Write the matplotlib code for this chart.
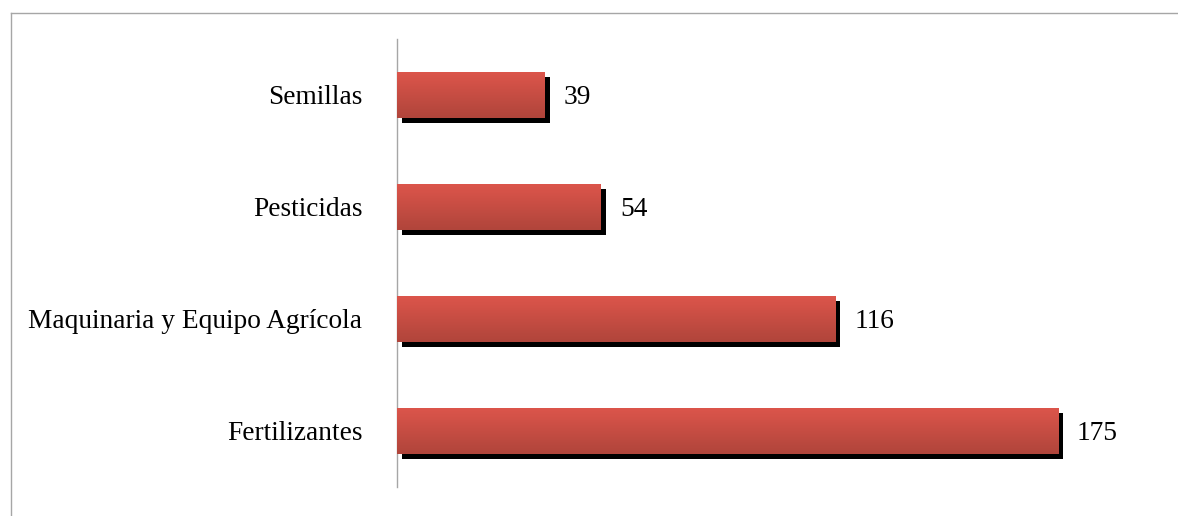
import numpy as np
import matplotlib
matplotlib.use('Agg')
import matplotlib.pyplot as plt
import matplotlib.patheffects as pe
from matplotlib.lines import Line2D
from matplotlib.colors import LinearSegmentedColormap

# Datos (de abajo hacia arriba)
categorias = ['Fertilizantes', 'Maquinaria y Equipo Agrícola', 'Pesticidas', 'Semillas']
valores = [175, 116, 54, 39]

plt.rcParams['font.family'] = ['Liberation Serif', 'DejaVu Serif']

fig = plt.figure(figsize=(11.78, 5.16), dpi=100)
ax = fig.add_axes([397 / 1178, 29 / 516, 736.6 / 1178, 448 / 516])

# marco gris del area del grafico
fig.add_artist(Line2D([10.5 / 1178, 10.5 / 1178], [0, 503 / 516], color='#a6a6a6', lw=1))
fig.add_artist(Line2D([10.5 / 1178, 1], [503 / 516, 503 / 516], color='#a6a6a6', lw=1))

y = np.arange(len(categorias))
bars = ax.barh(y, valores, height=0.41, color='#d25046', zorder=2,
               path_effects=[pe.SimplePatchShadow(offset=(3.8, -3.8), shadow_rgbFace='black', alpha=1.0),
                             pe.Normal()])

# degradado vertical en cada barra
grad = LinearSegmentedColormap.from_list('rojo', ['#b0453b', '#dc554b'])
g = np.linspace(0, 1, 100).reshape(-1, 1)
for b in bars:
    x0, y0 = b.get_x(), b.get_y()
    ax.imshow(g, cmap=grad, aspect='auto', origin='lower', zorder=3,
              extent=[x0, x0 + b.get_width(), y0, y0 + b.get_height()])

for b, v in zip(bars, valores):
    ax.text(v + 5, b.get_y() + b.get_height() / 2, str(v), va='center_baseline', ha='left',
            fontsize=19.7, color='black')

ax.set_xlim(0, 195)
ax.set_ylim(-0.5, len(categorias) - 0.5)
ax.set_yticks(y)
ax.set_yticklabels(categorias, fontsize=19.7, va='center_baseline')
ax.tick_params(axis='y', length=0, pad=25)
ax.set_xticks([])
for s in ['top', 'right', 'bottom']:
    ax.spines[s].set_visible(False)
ax.spines['left'].set_color('#a6a6a6')
ax.spines['left'].set_linewidth(1)

fig.savefig('out.png', dpi=100)
